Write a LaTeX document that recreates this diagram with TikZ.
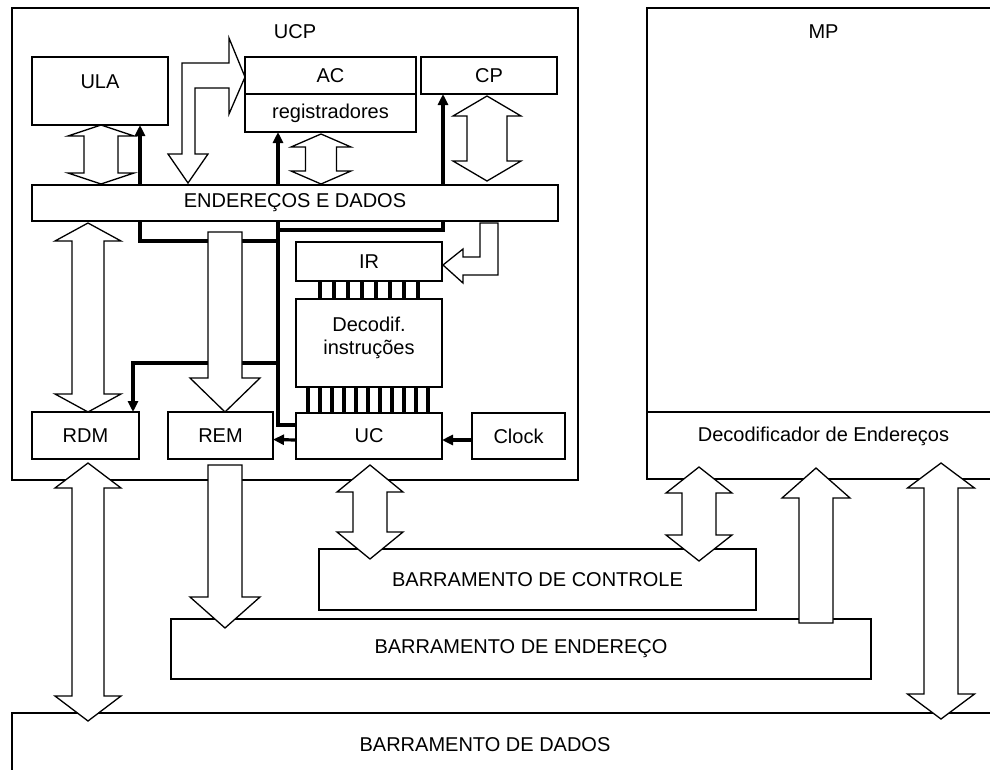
\documentclass[tikz,border=0pt]{standalone}
\usepackage{fontspec}
\setmainfont{Liberation Sans}
\usetikzlibrary{positioning, arrows.meta, calc, backgrounds}

% hollow double arrow: x, top end, bottom end, head half-width, shaft half-width, head length
\newcommand{\dblarrow}[6]{%
  \draw[fat] let \p1=#2, \p2=#3 in
    ({#1pt},\y1) -- ({#1pt+#4pt},{\y1-#6pt}) -- ({#1pt+#5pt},{\y1-#6pt})
    -- ({#1pt+#5pt},{\y2+#6pt}) -- ({#1pt+#4pt},{\y2+#6pt}) -- ({#1pt},\y2)
    -- ({#1pt-#4pt},{\y2+#6pt}) -- ({#1pt-#5pt},{\y2+#6pt})
    -- ({#1pt-#5pt},{\y1-#6pt}) -- ({#1pt-#4pt},{\y1-#6pt}) -- cycle;}
% hollow single arrow: x, tail, tip, head half-width, shaft half-width, head length (<0 points up)
\newcommand{\onearrow}[6]{%
  \draw[fat] let \p1=#2, \p2=#3 in
    ({#1pt-#5pt},\y1) -- ({#1pt+#5pt},\y1) -- ({#1pt+#5pt},{\y2+#6pt})
    -- ({#1pt+#4pt},{\y2+#6pt}) -- ({#1pt},\y2) -- ({#1pt-#4pt},{\y2+#6pt})
    -- ({#1pt-#5pt},{\y2+#6pt}) -- cycle;}

\begin{document}
\begin{tikzpicture}[
  x=1pt, y=-1pt,
  blk/.style={draw, line width=1.3pt, inner sep=0pt, outer sep=0pt,
              font=\fontsize{20}{23}\selectfont},
  bus/.style={blk, fill=white},
  lbl/.style={inner sep=0pt, font=\fontsize{20}{23}\selectfont},
  ctl/.style={line width=3.2pt, -{Triangle[length=11pt, width=10pt]}},
  bit/.style={line width=3.2pt},
  fat/.style={draw, fill=white, line width=1.3pt, line join=miter},
]
\useasboundingbox (0,0) rectangle (990,769);

% --- UCP ---
\node[blk, minimum width=566pt, minimum height=472pt,
      label={[lbl, below=16pt]north:UCP}] (ucp) at (295,244) {};
\node[blk, minimum width=136pt, minimum height=68pt,
      label={[lbl, below=18pt]north:ULA}] (ula) at (100,91) {};
\node[blk, minimum width=171pt, minimum height=37pt] (ac) at (330.5,75.5) {AC};
\node[blk, minimum width=171pt, minimum height=38pt, below=0pt of ac] (regs) {registradores};
\node[blk, minimum width=136pt, minimum height=37pt, right=5pt of ac] (cp) {CP};
\node[bus, minimum width=526pt, minimum height=36pt] (bus) at (295,203) {ENDEREÇOS E DADOS};

\node[blk, minimum width=146pt, minimum height=39pt] (ir) at (369,261.5) {IR};
\node[blk, minimum width=146pt, minimum height=88pt, below=18pt of ir,
      label={[lbl, align=center, below=18pt]north:Decodif.\\instruções}] (dec) {};
\node[blk, minimum width=146pt, minimum height=46pt, below=26pt of dec] (uc) {UC};
\node[blk, minimum width=93pt, minimum height=46pt, right=30pt of uc] (clock) {Clock};
\node[blk, minimum width=107pt, minimum height=47pt] (rdm) at (85.5,435.5) {RDM};
\node[blk, minimum width=105pt, minimum height=47pt] (rem) at (220.5,435.5) {REM};

% --- MP ---
\node[blk, minimum width=353pt, minimum height=404pt,
      label={[lbl, below=17pt]north:MP}] (mp) at (823.5,210) {};
\node[blk, minimum width=353pt, minimum height=67pt, below=0pt of mp,
      label={[lbl, below=15pt]north:Decodificador de Endereços}] (memdec) {};

% --- Barramentos ---
\node[blk, minimum width=437pt, minimum height=61pt] (ctrl) at (537.5,579.5) {BARRAMENTO DE CONTROLE};
\node[blk, minimum width=700pt, minimum height=60pt] (addr) at (521,649) {BARRAMENTO DE ENDEREÇO};
\node[blk, minimum width=998pt, minimum height=64pt,
      label={[lbl, xshift=-26pt]center:BARRAMENTO DE DADOS}] (data) at (511,745) {};

% --- IR / decoder / UC lines ---
\foreach \i in {0,...,7}
  \draw[bit] ([xshift={-49pt+14pt*\i}]ir.south) -- ([xshift={-49pt+14pt*\i}]dec.north);
\foreach \i in {0,...,10}
  \draw[bit] ([xshift={-61pt+12pt*\i}]dec.south) -- ([xshift={-61pt+12pt*\i}]uc.north);

% --- control lines (behind the bus) ---
\coordinate (spine) at (278,425);
\coordinate (kula) at (140,241);
\coordinate (kcp) at (443,230);
\coordinate (krdm) at (133,363);
\begin{scope}[on background layer]
  \draw[ctl] ([yshift=11pt]uc.west) -| (regs.south -| spine);
  \draw[ctl] (spine |- kula) -| (ula.south -| kula);
  \draw[ctl] (spine |- kcp) -| (cp.south -| kcp);
  \draw[ctl] (spine |- krdm) -| (rdm.north -| krdm);
\end{scope}
\draw[ctl] ([yshift=-4pt]uc.west) -- ([yshift=-4pt]rem.east);
\draw[ctl] ([yshift=-4pt]clock.west) -- ([yshift=-4pt]uc.east);

% --- hollow arrows inside UCP ---
\dblarrow{101}{(ula.south)}{([yshift=1pt]bus.north)}{33}{17}{11}
\dblarrow{321}{([yshift=-2pt]regs.south)}{([yshift=1pt]bus.north)}{30}{15.5}{13}
\dblarrow{487}{([yshift=-2pt]cp.south)}{([yshift=4pt]bus.north)}{34}{20}{20}
\dblarrow{88}{([yshift=-2pt]bus.south)}{(rdm.north)}{33}{16}{18}
\onearrow{225}{([yshift=-11pt]bus.south)}{(rem.north)}{35}{17}{34}
\draw[fat] (188,183) -- (208,154) -- (195,154) -- (195,88) -- (229,88) -- (229,114)
  -- (245,77) -- (229,38) -- (229,63) -- (182,63) -- (182,154) -- (168,154) -- cycle;
\draw[fat] (480,223) -- (498,223) -- (498,275) -- (463,275) -- (463,283)
  -- (443,265) -- (463,249) -- (463,257) -- (480,257) -- cycle;

% --- hollow arrows to the buses ---
\dblarrow{88}{([yshift=-4pt]rdm.south)}{([yshift=-8pt]data.north)}{33}{16}{25}
\onearrow{225}{([yshift=-6pt]rem.south)}{([yshift=-9pt]addr.north)}{35}{17}{31}
\dblarrow{370}{([yshift=-6pt]uc.south)}{([yshift=-10pt]ctrl.north)}{33}{17}{27}
\dblarrow{699}{([yshift=12pt]memdec.south)}{([yshift=-12pt]ctrl.north)}{33}{17}{26}
\onearrow{816}{([yshift=-4pt]addr.north)}{([yshift=11pt]memdec.south)}{34}{17}{-30}
\dblarrow{941}{([yshift=16pt]memdec.south)}{([yshift=-6pt]data.north)}{33.5}{17}{25}

\end{tikzpicture}
\end{document}
